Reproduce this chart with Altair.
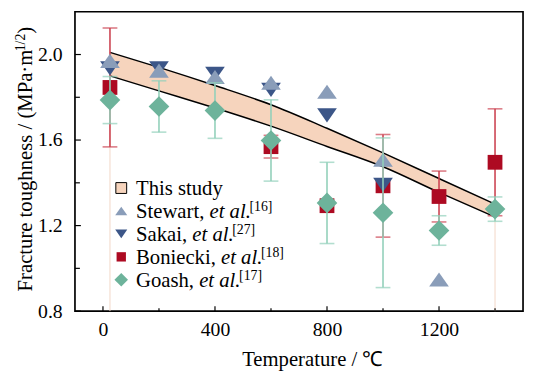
import altair as alt
import pandas as pd

# ---------------- data ----------------
T = [25, 200, 400, 600, 800, 1000, 1200, 1400]
band_upper = [2.01, 1.94, 1.855, 1.765, 1.655, 1.54, 1.42, 1.30]
band_lower = [1.90, 1.83, 1.75, 1.665, 1.57, 1.475, 1.355, 1.24]

stewart_T = [25, 200, 400, 600, 800, 1000, 1200]
stewart_K = [1.97, 1.925, 1.895, 1.868, 1.826, 1.508, 0.948]

sakai_T = [25, 200, 400, 600, 800, 1000]
sakai_K = [1.935, 1.935, 1.91, 1.835, 1.715, 1.39]

boniecki_T = [25, 600, 800, 1000, 1200, 1400]
boniecki_K = [1.846, 1.569, 1.293, 1.386, 1.336, 1.496]
boniecki_err = [0.278, 0.053, 0.0, 0.24, 0.119, 0.25]

goash_T = [25, 200, 400, 600, 800, 1000, 1200, 1400]
goash_K = [1.787, 1.757, 1.738, 1.598, 1.306, 1.26, 1.177, 1.277]
goash_err = [0.11, 0.12, 0.13, 0.19, 0.19, 0.35, 0.069, 0.057]

x_major = [0, 400, 800, 1200]
x_minor = [200, 600, 1000, 1400]
y_major = [0.8, 1.2, 1.6, 2.0]
y_minor = [1.0, 1.4, 1.8]

legend_names = ["This study", "Stewart, ", "Sakai, ", "Boniecki, ", "Goash, "]
legend_italic = ["", "et al.", "et al.", "et al.", "et al."]
legend_refs = ["", "[16]", "[27]", "[18]", "[17]"]

ytitle_main = "Fracture toughness / (MPa\u00b7m"
ytitle_sup = "1/2"
ytitle_end = ")"
xtitle = "Temperature / \u2103"

# ---------------- style ----------------
FONT = "Liberation Serif, Times New Roman, Times, serif"
C_BAND = "#f6d4bd"
C_STEW = "#8a9db9"
C_SAKAI = "#3c5688"
C_RED = "#ad0a22"
C_RED_ERR = "#cc4452"
C_TEAL = "#6db39b"
C_TEAL_ERR = "#92d0ba"

W, H = 455, 304
xs = alt.Scale(domain=[-100, 1500], nice=False, zero=False)
ys = alt.Scale(domain=[0.8, 2.2], nice=False, zero=False)

AX = alt.Axis(values=x_major, format="d", ticks=False, domain=False, grid=False,
              labelFlush=False, labelFontSize=20, labelColor="black", labelPadding=9,
              labelFont=FONT, title=xtitle, titleFont=FONT, titleFontSize=21,
              titleFontWeight="normal", titleColor="black", titleX=241, titleY=55,
              titleBaseline="alphabetic", titleAlign="center")
AY = alt.Axis(values=y_major, format=".1f", ticks=False, domain=False, grid=False,
              labelFlush=False, labelFontSize=20, labelColor="black", labelPadding=13,
              labelFont=FONT, title=None)

TRI_UP = "M0,-0.72L1,0.72L-1,0.72Z"
TRI_DOWN = "M-1,-0.72L1,-0.72L0,0.72Z"

REG = {' ': 250, ',': 250, '.': 250, 'a': 444, 'c': 444, 'e': 444, 'h': 500,
       'i': 278, 'k': 500, 'n': 500, 'o': 500, 'r': 333, 's': 389, 't': 278,
       'u': 500, 'w': 722, 'y': 500, 'd': 500, 'g': 500, 'l': 278, 'm': 778,
       'B': 667, 'G': 722, 'S': 556, 'T': 611, 'F': 556, 'M': 889, 'P': 556,
       '(': 333, ')': 333, '/': 278, '\u00b7': 250, '[': 333, ']': 333}
ITA = {' ': 250, '.': 250, 'e': 444, 't': 278, 'a': 500, 'l': 278}


def tw(s, table, size):
    return sum(table.get(c, 500) for c in s) * size / 1000.0


# ---------------- data frames ----------------
band_df = pd.DataFrame({"T": T, "upper": band_upper, "lower": band_lower})
stew_df = pd.DataFrame({"T": stewart_T, "K": stewart_K})
sakai_df = pd.DataFrame({"T": sakai_T, "K": sakai_K})
bon_df = pd.DataFrame({"T": boniecki_T, "K": boniecki_K, "err": boniecki_err})
bon_df["lo"] = bon_df["K"] - bon_df["err"]
bon_df["hi"] = bon_df["K"] + bon_df["err"]
bon_err_df = bon_df[bon_df["err"] > 0]
goa_df = pd.DataFrame({"T": goash_T, "K": goash_K, "err": goash_err})
goa_df["lo"] = goa_df["K"] - goa_df["err"]
goa_df["hi"] = goa_df["K"] + goa_df["err"]

X = lambda f: alt.X(f, scale=xs, axis=AX)
Y = lambda f: alt.Y(f, scale=ys, axis=AY)

# ---------------- band ----------------
band = alt.Chart(band_df).mark_area(color=C_BAND, opacity=1, interpolate="monotone").encode(
    x=X("T:Q"), y=Y("upper:Q"), y2="lower:Q")

edge_left = alt.Chart(band_df.iloc[[0]]).mark_rule(color="#f3d6c6", strokeWidth=1).encode(
    x=X("T:Q"), y=Y("lower:Q"), y2=alt.datum(0.8))
edge_right = alt.Chart(band_df.iloc[[-1]]).mark_rule(color="#f3d6c6", strokeWidth=1).encode(
    x=X("T:Q"), y=Y("lower:Q"), y2=alt.datum(0.8))

line_up = alt.Chart(band_df).mark_line(color="black", strokeWidth=1.5, interpolate="monotone").encode(
    x=X("T:Q"), y=Y("upper:Q"))
line_lo = alt.Chart(band_df).mark_line(color="black", strokeWidth=1.5, interpolate="monotone").encode(
    x=X("T:Q"), y=Y("lower:Q"))


def errbars(df, color):
    r = alt.Chart(df).mark_rule(color=color, strokeWidth=1.6).encode(
        x=X("T:Q"), y=Y("lo:Q"), y2="hi:Q")
    t1 = alt.Chart(df).mark_tick(color=color, orient="horizontal", size=15, thickness=1.6).encode(
        x=X("T:Q"), y=Y("lo:Q"))
    t2 = alt.Chart(df).mark_tick(color=color, orient="horizontal", size=15, thickness=1.6).encode(
        x=X("T:Q"), y=Y("hi:Q"))
    return [r, t1, t2]


red_err = errbars(bon_err_df, C_RED_ERR)
teal_err = errbars(goa_df, C_TEAL_ERR)

squares = alt.Chart(bon_df).mark_point(shape="square", filled=True, opacity=1, size=225,
                                       color=C_RED).encode(x=X("T:Q"), y=Y("K:Q"))
sakai = alt.Chart(sakai_df).mark_point(shape=TRI_DOWN, filled=True, opacity=1, size=400,
                                       color=C_SAKAI).encode(x=X("T:Q"), y=Y("K:Q"))
stew = alt.Chart(stew_df).mark_point(shape=TRI_UP, filled=True, opacity=1, size=400,
                                     color=C_STEW).encode(x=X("T:Q"), y=Y("K:Q"))
diamonds = alt.Chart(goa_df).mark_point(shape="diamond", filled=True, opacity=1, size=441,
                                        color=C_TEAL).encode(x=X("T:Q"), y=Y("K:Q"))


# ---------------- inward ticks ----------------
def xticks(vals, length):
    return alt.Chart(pd.DataFrame({"T": vals})).mark_rule(color="black", strokeWidth=1.2).encode(
        x=X("T:Q"), y=alt.value(H), y2=alt.value(H - length))


def yticks(vals, length):
    return alt.Chart(pd.DataFrame({"K": vals})).mark_rule(color="black", strokeWidth=1.2).encode(
        y=Y("K:Q"), x=alt.value(0), x2=alt.value(length))


ticks = [xticks(x_major, 5), xticks(x_minor, 3), yticks(y_major, 6), yticks(y_minor, 5)]


# ---------------- legend (pixel positioned) ----------------
def ptext(txt, x, y, size=21, style="normal", angle=0):
    return alt.Chart().mark_text(text=txt, align="left", baseline="alphabetic", font=FONT,
                                 fontSize=size, fontStyle=style, color="black",
                                 angle=angle).encode(x=alt.value(x), y=alt.value(y))


def psym(x, y, **kw):
    return alt.Chart().mark_point(filled=True, opacity=1, **kw).encode(
        x=alt.value(x), y=alt.value(y))


LX_SYM, LX_TXT, LY0, LDY = 47, 62, 186, 23.3
legend_layers = []
sym_styles = [
    dict(shape="square", size=121, fill=C_BAND, stroke="black", strokeWidth=1),
    dict(shape=TRI_UP, size=150, color=C_STEW),
    dict(shape=TRI_DOWN, size=150, color=C_SAKAI),
    dict(shape="square", size=90, color=C_RED),
    dict(shape="diamond", size=190, color=C_TEAL),
]
for i, (n, it, rf) in enumerate(zip(legend_names, legend_italic, legend_refs)):
    by = LY0 + LDY * i
    legend_layers.append(psym(LX_SYM, by - 7, **sym_styles[i]))
    legend_layers.append(ptext(n, LX_TXT, by))
    if it:
        xi = LX_TXT + tw(n, REG, 21)
        legend_layers.append(ptext(it, xi, by, style="italic"))
        xr = xi + tw(it, ITA, 21) - 1.5
        legend_layers.append(ptext(rf, xr, by - 6.5, size=14))

# ---------------- y title (with superscript) ----------------
YT_X, YT_Y0 = -44, 284
w_main = tw(ytitle_main, REG, 21)
w_sup = tw(ytitle_sup, REG, 14)
ytitle_layers = [
    ptext(ytitle_main, YT_X, YT_Y0, angle=270),
    ptext(ytitle_sup, YT_X - 6.5, YT_Y0 - w_main, size=14, angle=270),
    ptext(ytitle_end, YT_X, YT_Y0 - w_main - w_sup, angle=270),
]

layers = ([band, edge_left, edge_right, line_up, line_lo] + red_err + [squares, sakai, stew]
          + teal_err + [diamonds] + ticks + legend_layers + ytitle_layers)

chart = alt.layer(*layers).properties(
    width=W, height=H,
    autosize=alt.AutoSizeParams(type="none"),
    padding={"left": 68, "top": 1, "right": 2, "bottom": 58},
).configure(font=FONT).configure_view(stroke="black", strokeWidth=1.7)

chart.save("out.html", embed_options={"renderer": "svg", "actions": False})
